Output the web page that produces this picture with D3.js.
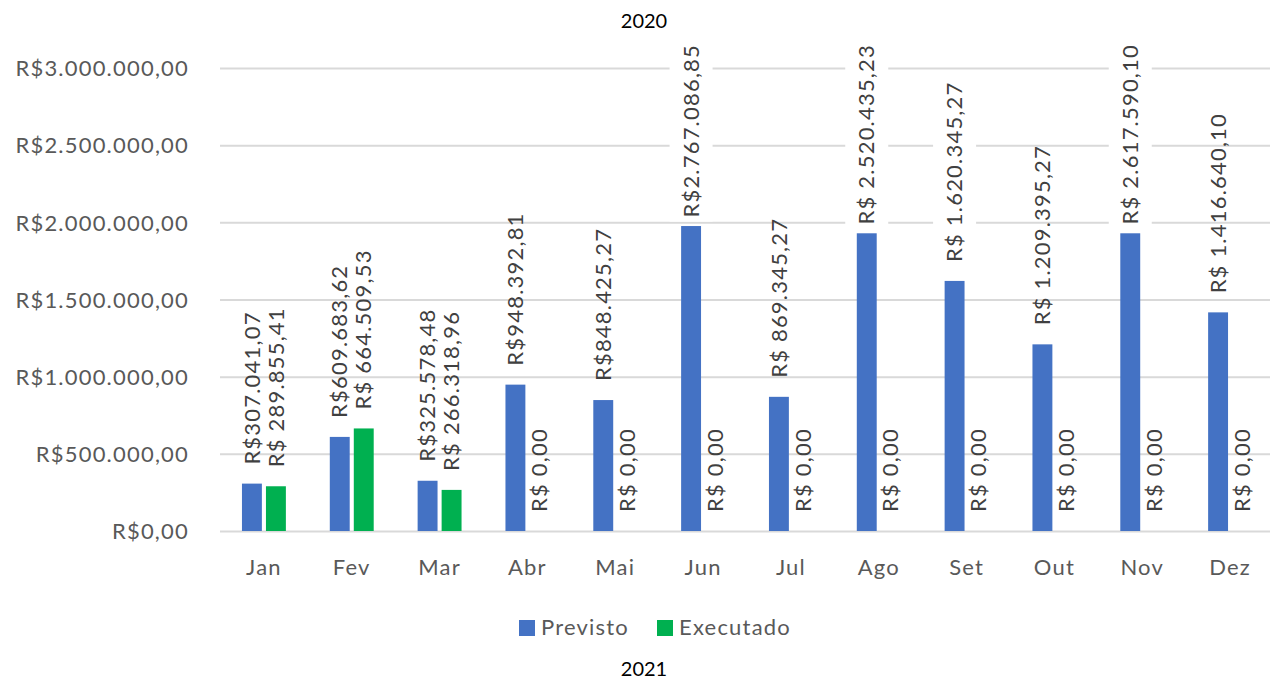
<!DOCTYPE html>
<html>
<head>
<meta charset="utf-8">
<script src="https://cdn.jsdelivr.net/npm/d3@7/dist/d3.min.js"></script>
<style>
  html, body { margin: 0; padding: 0; background: #fff; }
  svg { display: block; font-family: Lato, "Open Sans", sans-serif; }
</style>
</head>
<body>
<svg id="chart" width="1271" height="680"></svg>
<script>
const categories = ["Jan", "Fev", "Mar", "Abr", "Mai", "Jun", "Jul", "Ago", "Set", "Out", "Nov", "Dez"];
const seriesNames = ["Previsto", "Executado"];
// bar heights as drawn in the picture
const previsto = [307041.07, 609683.62, 325578.48, 948392.81, 848425.27, 1976000, 869345.27, 1929000, 1620345.27, 1209395.27, 1929000, 1416640.10];
const executado = [289855.41, 664509.53, 266318.96, 0, 0, 0, 0, 0, 0, 0, 0, 0];
// data label texts as printed in the picture
const previstoLabels = ["R$307.041,07", "R$609.683,62", "R$325.578,48", "R$948.392,81", "R$848.425,27", "R$2.767.086,85", "R$ 869.345,27", "R$ 2.520.435,23", "R$ 1.620.345,27", "R$ 1.209.395,27", "R$ 2.617.590,10", "R$ 1.416.640,10"];
const executadoLabels = ["R$ 289.855,41", "R$ 664.509,53", "R$ 266.318,96", "R$ 0,00", "R$ 0,00", "R$ 0,00", "R$ 0,00", "R$ 0,00", "R$ 0,00", "R$ 0,00", "R$ 0,00", "R$ 0,00"];
const yTicks = [0, 500000, 1000000, 1500000, 2000000, 2500000, 3000000];
const yTickLabels = ["R$0,00", "R$500.000,00", "R$1.000.000,00", "R$1.500.000,00", "R$2.000.000,00", "R$2.500.000,00", "R$3.000.000,00"];
const titleTop = "2020";
const titleBottom = "2021";

(function () {
const colors = { Previsto: "#4472C4", Executado: "#00B050" };
const boxedPrevisto = new Set([5, 7, 8, 10]);

const svg = d3.select("#chart");
const plotLeft = 220, plotRight = 1274, gridRight = 1270, plotTop = 68, base = 531;
const FS = 22, LS = "1.2px";

const y = d3.scaleLinear().domain([0, 3000000]).range([base, plotTop]);
const x0 = d3.scaleBand().domain(categories).range([plotLeft, plotRight]).paddingInner(0.5).paddingOuter(0.25);
const x1 = d3.scaleBand().domain(seriesNames).range([0, x0.bandwidth()]).paddingInner(0.17);

// gridlines
const grid = svg.append("g").attr("transform", `translate(${plotLeft},0)`)
  .call(d3.axisLeft(y).tickValues(yTicks).tickSize(-(gridRight - plotLeft)).tickFormat(""));
grid.select(".domain").remove();
grid.selectAll("line").attr("stroke", "#D9D9D9").attr("stroke-width", 2);

// y axis labels
const yAxis = svg.append("g").attr("transform", `translate(${plotLeft},0)`)
  .call(d3.axisLeft(y).tickValues(yTicks).tickSize(0).tickPadding(31)
    .tickFormat((d, i) => yTickLabels[i]));
yAxis.select(".domain").remove();
yAxis.selectAll("text").attr("font-size", FS).attr("fill", "#595959")
  .attr("font-family", "Lato, sans-serif").attr("letter-spacing", LS).attr("dy", "0.35em");

// x axis labels
const xAxis = svg.append("g").attr("transform", `translate(0,${base})`)
  .call(d3.axisBottom(x0).tickSize(0).tickPadding(28));
xAxis.select(".domain").remove();
xAxis.selectAll("text").attr("font-size", FS).attr("fill", "#595959")
  .attr("font-family", "Lato, sans-serif").attr("letter-spacing", LS);

// build bar records
const bars = [];
categories.forEach((c, i) => {
  bars.push({ cat: c, s: "Previsto", v: previsto[i], label: previstoLabels[i], boxed: boxedPrevisto.has(i) });
  bars.push({ cat: c, s: "Executado", v: executado[i], label: executadoLabels[i], boxed: false });
});

const boxLayer = svg.append("g");
const barLayer = svg.append("g");
const labelLayer = svg.append("g");

barLayer.selectAll("rect").data(bars).join("rect")
  .attr("x", d => x0(d.cat) + x1(d.s))
  .attr("width", x1.bandwidth())
  .attr("y", d => y(d.v))
  .attr("height", d => base - y(d.v))
  .attr("fill", d => colors[d.s]);

const labelTopLimit = 44;
bars.forEach(d => {
  const cx = x0(d.cat) + x1(d.s) + x1.bandwidth() / 2;
  const t = labelLayer.append("text")
    .attr("font-size", FS).attr("fill", "#404040")
    .attr("font-family", "Lato, sans-serif")
    .attr("letter-spacing", LS)
    .attr("text-anchor", "start")
    .attr("dy", "0.35em")
    .text(d.label);
  const len = t.node().getComputedTextLength();
  let start = y(d.v) - 19;
  if (start - len < labelTopLimit) start = labelTopLimit + len;
  t.attr("transform", `translate(${cx},${start}) rotate(-90)`);
  if (d.boxed) {
    boxLayer.append("rect")
      .attr("x", cx - 21.5).attr("width", 43)
      .attr("y", start - len - 4).attr("height", len + 8)
      .attr("fill", "#fff");
  }
});

// titles
svg.append("text").attr("x", 644).attr("y", 28).attr("text-anchor", "middle")
  .attr("font-size", 20).attr("fill", "#000").text(titleTop);
svg.append("text").attr("x", 644).attr("y", 676).attr("text-anchor", "middle")
  .attr("font-size", 20).attr("fill", "#000").text(titleBottom);

// legend
const legendItems = [
  { name: seriesNames[0], x: 519 },
  { name: seriesNames[1], x: 657 }
];
const lg = svg.append("g");
legendItems.forEach(it => {
  lg.append("rect").attr("x", it.x).attr("y", 620).attr("width", 16).attr("height", 16)
    .attr("fill", colors[it.name]);
  lg.append("text").attr("x", it.x + 22).attr("y", 635).attr("font-size", FS)
    .attr("letter-spacing", LS).attr("fill", "#595959").text(it.name);
});
})();
</script>
</body>
</html>
